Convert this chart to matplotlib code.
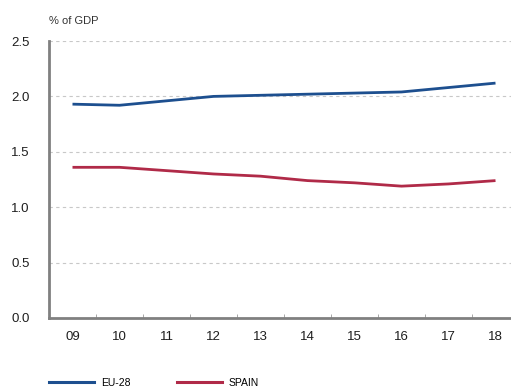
import matplotlib
matplotlib.use("Agg")
import matplotlib.pyplot as plt
from matplotlib.lines import Line2D

years = ['09', '10', '11', '12', '13', '14', '15', '16', '17', '18']
eu28 = [1.93, 1.92, 1.96, 2.00, 2.01, 2.02, 2.03, 2.04, 2.08, 2.12]
spain = [1.36, 1.36, 1.33, 1.30, 1.28, 1.24, 1.22, 1.19, 1.21, 1.24]

blue = '#1d4f8f'
red = '#b02a48'
plt.rcParams['font.family'] = ['Liberation Sans', 'DejaVu Sans']

fig = plt.figure(figsize=(5.11, 3.89), dpi=100)
ax = fig.add_axes([49/511, 71/389, 470/511, 277/389])

x = list(range(len(years)))
ax.plot(x, eu28, color=blue, lw=2.0, solid_capstyle='butt')
ax.plot(x, spain, color=red, lw=2.0, solid_capstyle='butt')

ax.set_xlim(-0.5, 9.5)
ax.set_ylim(0, 2.5)
ax.set_yticks([0, 0.5, 1.0, 1.5, 2.0, 2.5])
ax.set_yticklabels(['0.0', '0.5', '1.0', '1.5', '2.0', '2.5'])
ax.yaxis.grid(True, color='#c8c8c8', ls=(0, (3, 3)), lw=0.8)
ax.set_axisbelow(True)

ax.set_xticks(x)
ax.set_xticklabels(years)
ax.set_xticks([i + 0.5 for i in range(9)], minor=True)
ax.tick_params(axis='x', which='major', length=0, pad=9)
ax.tick_params(axis='x', which='minor', direction='in', length=3, color='#999999')
ax.tick_params(axis='y', length=0, pad=14)
for lab in ax.get_xticklabels() + ax.get_yticklabels():
    lab.set_fontsize(9.5)
    lab.set_color('#1e1e1e')

for s in ['top', 'right']:
    ax.spines[s].set_visible(False)
for s in ['left', 'bottom']:
    ax.spines[s].set_color('#808080')
    ax.spines[s].set_linewidth(2)

fig.text(49/511, 1 - 21/389, '% of GDP', fontsize=8, color='#333333', va='center')

handles = [Line2D([0], [0], color=blue, lw=2.2), Line2D([0], [0], color=red, lw=2.2)]
fig.legend(handles, ['EU-28', 'SPAIN'], loc='center left', bbox_to_anchor=(40/511, 1 - 383/389),
           ncol=2, frameon=False, fontsize=7.5, handlelength=4.3, columnspacing=4.4,
           handletextpad=0.7)

fig.savefig('out.png', dpi=100)
